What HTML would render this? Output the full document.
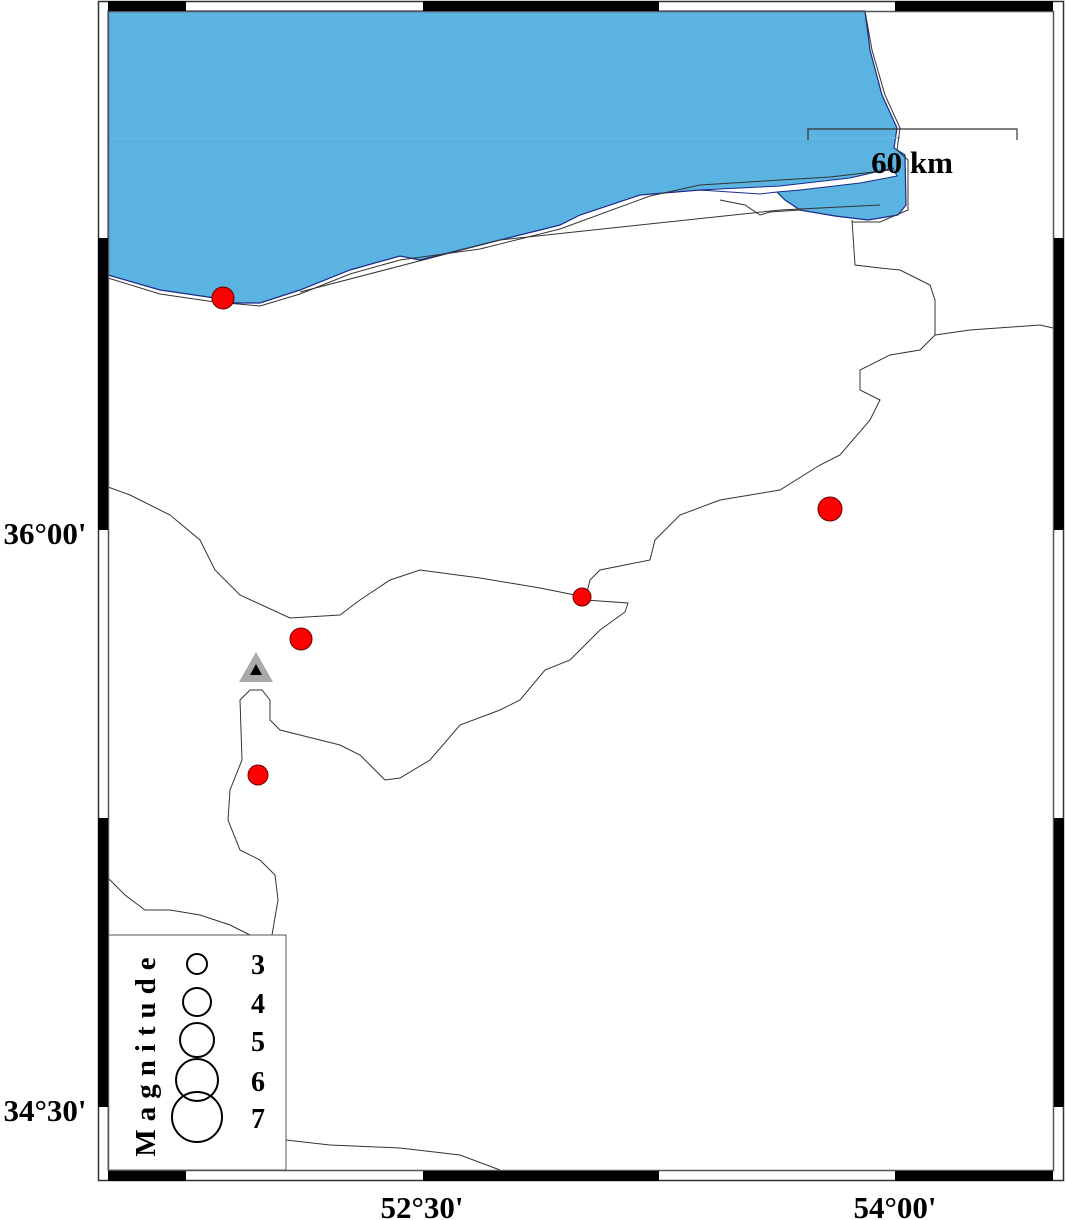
<!DOCTYPE html>
<html><head><style>body{margin:0;background:#fff}svg{display:block}</style></head><body>
<svg width="1066" height="1220" xmlns="http://www.w3.org/2000/svg" font-family="Liberation Serif, serif" font-weight="bold">
<rect x="0" y="0" width="1066" height="1220" fill="#fff"/>
<polygon fill="#5ab3e0" stroke="#1a2a8a" stroke-width="1.2" points="108,11 865,11 870,50 882,95 897,128 894,148 905,155 906,205 898,215 868,220 835,216 800,210 785,200 777,192 700,190 640,195 580,215 560,225 480,245 420,260 400,256 350,270 300,290 260,303 235,303 215,298 160,290 108,275"/>
<polygon fill="#fff" stroke="#1a2a8a" stroke-width="1" points="700,190 780,186 850,178 893,168 897,176 860,183 800,190 777,192 760,194"/>
<line x1="108" y1="138" x2="900" y2="138" stroke="#6cbde6" stroke-width="1"/>
<g fill="none" stroke="#333" stroke-width="1">
<polyline points="108,278 160,294 215,302 260,306 300,294 350,274 400,260 480,249 560,229 650,196 700,185 830,177 890,170"/>
<polyline points="865,11 872,50 885,95 900,128 897,150 908,160 908,210 880,222 852,222"/>
<polyline points="300,292 500,240 780,210 880,205"/>
<polyline points="720,200 745,205 760,215 770,212 800,210"/>
<polyline points="108,487 130,495 170,515 200,540 215,570 240,595 290,618 340,615 360,600 390,580 420,570 480,578 540,588 575,595 585,600 590,580 600,570 650,560 655,540 680,515 720,500 780,490 820,465 840,455 870,420 880,400 860,390 860,370 890,355 920,350 935,335 935,300 930,285 900,270 880,268 855,265 852,220"/>
<polyline points="935,335 970,330 1040,325 1053,328"/>
<polyline points="585,600 628,603 625,612 600,630 580,650 570,660 545,670 520,700 500,710 460,725 430,760 400,778 385,780 360,755 340,745 320,740 280,730 270,720 270,700 262,690 250,690 240,700 242,760 230,790 228,820 240,850 260,860 275,875 278,900 272,935"/>
<polyline points="108,878 125,895 145,910 170,910 200,915 230,925 250,935"/>
<polyline points="286,1140 330,1145 400,1148 460,1155 500,1170"/>
</g>
<g fill="#f00" stroke="#600" stroke-width="1">
<circle cx="223" cy="298" r="11"/>
<circle cx="830" cy="509" r="12"/>
<circle cx="582" cy="597" r="9"/>
<circle cx="301" cy="639" r="11"/>
<circle cx="258" cy="775" r="10"/>
</g>
<polygon points="256,652 239,682 273,682" fill="#aaa"/>
<polygon points="256,664 250,675 262,675" fill="#000"/>
<polyline points="808,140 808,129 1017,129 1017,140" fill="none" stroke="#333" stroke-width="1.2"/>
<text x="912" y="173" font-size="31" text-anchor="middle">60 km</text>
<rect x="108" y="935" width="178" height="235" fill="#fff" stroke="#555" stroke-width="1"/>
<g fill="none" stroke="#000" stroke-width="2">
<circle cx="197" cy="964" r="10"/>
<circle cx="197" cy="1002" r="14"/>
<circle cx="197" cy="1040" r="17"/>
<circle cx="197" cy="1080" r="21"/>
<circle cx="197" cy="1117" r="25"/>
</g>
<g font-size="28">
<text x="258" y="974" text-anchor="middle">3</text>
<text x="258" y="1013" text-anchor="middle">4</text>
<text x="258" y="1051" text-anchor="middle">5</text>
<text x="258" y="1091" text-anchor="middle">6</text>
<text x="258" y="1128" text-anchor="middle">7</text>
</g>
<text transform="translate(155,1053) rotate(-90)" font-size="29" text-anchor="middle" letter-spacing="8">Magnitude</text>
<rect x="98.5" y="1.5" width="965" height="1179" fill="none" stroke="#333" stroke-width="1.5"/>
<rect x="108.5" y="11.5" width="945" height="1159" fill="none" stroke="#555" stroke-width="1.5"/>
<g fill="#000">
<rect x="108" y="1" width="78" height="10"/><rect x="423" y="1" width="236" height="10"/><rect x="895" y="1" width="158" height="10"/>
<rect x="108" y="1171" width="78" height="10"/><rect x="423" y="1171" width="236" height="10"/><rect x="895" y="1171" width="158" height="10"/>
<rect x="98" y="238" width="10" height="292"/><rect x="98" y="818" width="10" height="289"/>
<rect x="1054" y="238" width="10" height="292"/><rect x="1054" y="818" width="10" height="289"/>
</g>
<g font-size="31">
<text x="45" y="544" text-anchor="middle">36°00'</text>
<text x="45" y="1121" text-anchor="middle">34°30'</text>
<text x="422" y="1218" text-anchor="middle">52°30'</text>
<text x="895" y="1218" text-anchor="middle">54°00'</text>
</g>
</svg>
</body></html>
